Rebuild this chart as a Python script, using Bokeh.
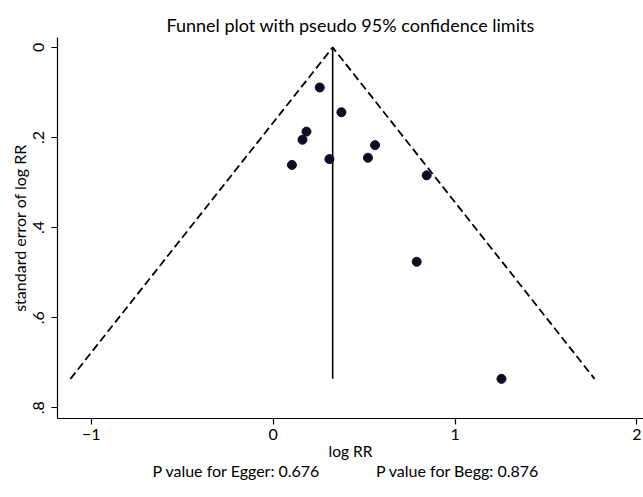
from bokeh.plotting import figure
from bokeh.models import Range1d, FixedTicker, ColumnDataSource, Title
from bokeh.embed import file_html
from bokeh.resources import INLINE

# ---- data ----
log_rr = [0.256, 0.375, 0.183, 0.161, 0.560, 0.521, 0.309, 0.103, 0.844, 0.789, 1.255]
se_log_rr = [0.089, 0.144, 0.187, 0.205, 0.217, 0.245, 0.248, 0.261, 0.284, 0.476, 0.736]

pooled_x = [0.327, 0.327]
pooled_se = [0.0, 0.736]

funnel_se = [0.736, 0.0, 0.736]
funnel_x = [-1.115, 0.327, 1.767]

x_ticks = [-1, 0, 1, 2]
x_tick_labels = ["\u22121", "0", "1", "2"]
y_ticks = [0, 0.2, 0.4, 0.6, 0.8]
y_tick_labels = ["0", ".2", ".4", ".6", ".8"]

title_text = "Funnel plot with pseudo 95% confidence limits"
note_egger = "P value for Egger: 0.676"
note_begg = "P value for Begg: 0.876"

FONT = "Lato"

p = figure(width=643, height=497,
           x_range=Range1d(-1.186, 2.036), y_range=Range1d(0.824, -0.022),
           output_backend="svg", toolbar_location=None,
           min_border_left=57, min_border_right=0,
           min_border_top=37, min_border_bottom=79,
           title=title_text)

p.background_fill_color = "white"
p.border_fill_color = "white"
p.outline_line_color = None
p.xgrid.visible = False
p.ygrid.visible = False

p.title.text_font = FONT
p.title.text_font_size = "18px"
p.title.text_font_style = "normal"
p.title.text_color = "black"
p.title.align = "center"
p.title.standoff = 4

for ax in (p.xaxis[0], p.yaxis[0]):
    ax.axis_line_color = "black"
    ax.axis_line_width = 1.2
    ax.major_tick_line_color = "black"
    ax.major_tick_line_width = 1.2
    ax.major_tick_out = 6
    ax.major_tick_in = 0
    ax.minor_tick_line_color = None
    ax.major_label_text_font = FONT
    ax.major_label_text_font_size = "16px"
    ax.major_label_text_color = "black"
    ax.axis_label_text_font = FONT
    ax.axis_label_text_font_size = "15.5px"
    ax.axis_label_text_font_style = "normal"
    ax.axis_label_text_color = "black"

p.xaxis.ticker = FixedTicker(ticks=x_ticks)
p.xaxis.major_label_overrides = dict(zip(x_ticks, x_tick_labels))
p.xaxis.axis_label = "log RR"
p.xaxis.major_label_standoff = 4
p.xaxis.axis_label_standoff = -1

p.yaxis.ticker = FixedTicker(ticks=y_ticks)
p.yaxis.major_label_overrides = dict(zip(y_ticks, y_tick_labels))
p.yaxis.axis_label = "standard error of log RR"
p.yaxis.axis_label_text_font_size = "16px"
p.yaxis.major_label_orientation = "vertical"
p.yaxis.major_label_standoff = 7
p.yaxis.axis_label_standoff = 2

# funnel limits
p.line(funnel_x, funnel_se, line_color="black", line_width=1.8, line_dash="8 4")
# pooled estimate
p.line(pooled_x, pooled_se, line_color="black", line_width=1.6)
# studies
src = ColumnDataSource(dict(x=log_rr, y=se_log_rr))
p.scatter("x", "y", source=src, size=9, fill_color="#0d0d23", line_color="#0d0d23")

# note below the axis
gap = "\u2003\u2003\u2003\u00a0\u00a0\u00a0\u00a0\u00a0"
note = Title(text=note_egger + gap + note_begg, align="left", offset=95,
             text_font=FONT, text_font_size="16px", text_font_style="normal",
             text_color="black", standoff=-7)
p.add_layout(note, "below")

open("out.html", "w").write(file_html(p, INLINE))
